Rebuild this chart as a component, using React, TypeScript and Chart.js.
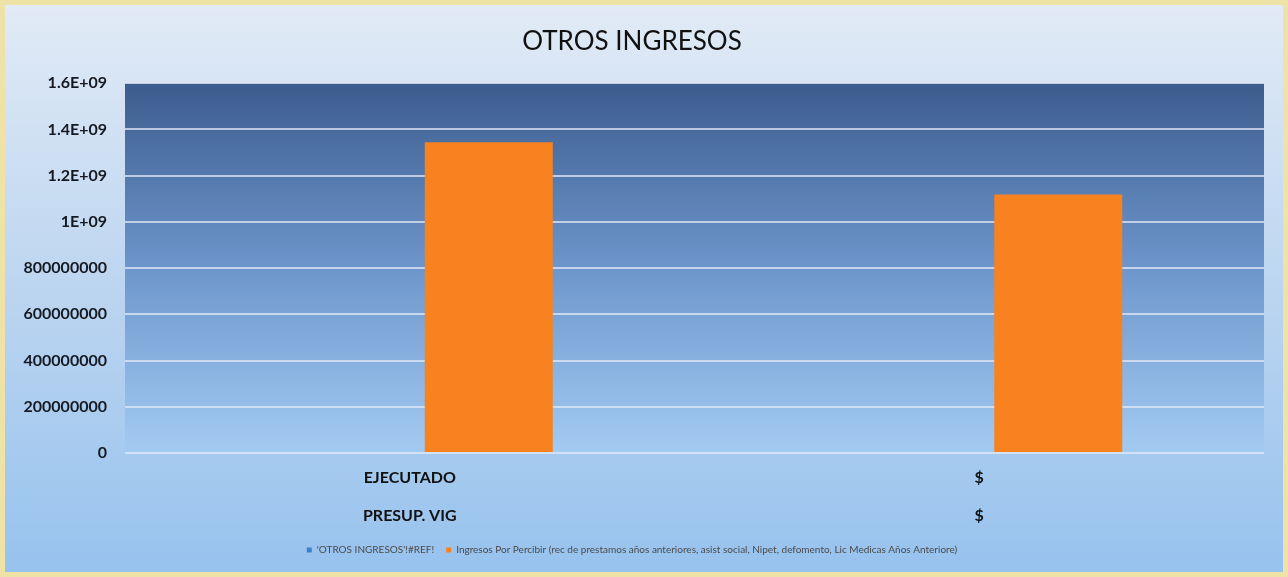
import React, { useEffect, useRef } from "react";
import { Chart, registerables } from "chart.js";

Chart.register(...registerables);

const categories: string[][] = [["EJECUTADO", "PRESUP. VIG"], ["$", "$"]];
const refSeriesLabel = "'OTROS INGRESOS'!#REF!";
const refSeriesValues: (number | null)[] = [null, null];
const ingresosLabel =
  "Ingresos Por Percibir (rec de prestamos años anteriores, asist social, Nipet, defomento, Lic Medicas Años Anteriore)";
const ingresosValues: number[] = [1345000000, 1118000000];
const yTickValues: number[] = [0, 200000000, 400000000, 600000000, 800000000, 1000000000, 1200000000, 1400000000, 1600000000];
const yTickLabels: string[] = ["0", "200000000", "400000000", "600000000", "800000000", "1E+09", "1.2E+09", "1.4E+09", "1.6E+09"];
const chartTitle = "OTROS INGRESOS";

const backgroundPlugin = {
  id: "bgPlugin",
  beforeDraw(chart: any) {
    const { ctx, width, height, chartArea } = chart;
    ctx.save();
    const outer = ctx.createLinearGradient(0, 0, 0, height);
    outer.addColorStop(0, "#e2ebf6");
    outer.addColorStop(0.5, "#bcd5f0");
    outer.addColorStop(1, "#96c2ee");
    ctx.fillStyle = outer;
    ctx.fillRect(0, 0, width, height);
    ctx.strokeStyle = "#efe2a6";
    ctx.lineWidth = 5;
    ctx.strokeRect(2.5, 2.5, width - 5, height - 5);
    if (chartArea) {
      const inner = ctx.createLinearGradient(0, chartArea.top, 0, chartArea.bottom);
      inner.addColorStop(0, "#3d5c8e");
      inner.addColorStop(0.5, "#6d96cc");
      inner.addColorStop(1, "#a3cbf2");
      ctx.fillStyle = inner;
      ctx.fillRect(chartArea.left, chartArea.top, chartArea.right - chartArea.left, chartArea.bottom - chartArea.top);
    }
    ctx.restore();
  },
};

export default function App() {
  const canvasRef = useRef<HTMLCanvasElement | null>(null);

  useEffect(() => {
    document.body.style.margin = "0";
    const canvas = canvasRef.current;
    if (!canvas) return;
    const chart = new Chart(canvas, {
      type: "bar",
      data: {
        labels: categories,
        datasets: [
          {
            label: refSeriesLabel,
            data: refSeriesValues,
            backgroundColor: "#3f7fd0",
            categoryPercentage: 0.555,
            barPercentage: 0.81,
          },
          {
            label: ingresosLabel,
            data: ingresosValues,
            backgroundColor: "#f7821f",
            categoryPercentage: 0.555,
            barPercentage: 0.81,
          },
        ],
      },
      options: {
        animation: false,
        responsive: false,
        maintainAspectRatio: false,
        layout: { padding: { left: 0, right: 24, top: 0, bottom: 12 } },
        plugins: {
          title: {
            display: true,
            text: chartTitle,
            color: "#111111",
            font: { family: "Lato", size: 26, weight: "normal" },
            padding: { top: 26, bottom: 26 },
          },
          legend: {
            display: true,
            position: "bottom",
            labels: {
              boxWidth: 5,
              boxHeight: 5,
              color: "#4a4a4a",
              font: { family: "Lato", size: 10 },
              padding: 12,
            },
          },
          tooltip: { enabled: false },
        },
        scales: {
          x: {
            grid: { display: false, drawTicks: false },
            border: { display: false },
            ticks: {
              color: "#111111",
              font: { family: "Lato", size: 16, weight: "bold", lineHeight: 2.35 },
              padding: 6,
              maxRotation: 0,
              autoSkip: false,
            },
            afterFit(scale: any) {
              scale.height = 80;
            },
          },
          y: {
            min: 0,
            max: 1600000000,
            afterBuildTicks(scale: any) {
              scale.ticks = yTickValues.map((v) => ({ value: v }));
            },
            ticks: {
              color: "#151a22",
              font: { family: "Lato", size: 16, weight: "bold" },
              padding: 18,
              callback: (_v: any, i: number) => yTickLabels[i],
            },
            grid: {
              color: "rgba(225,232,245,0.75)",
              lineWidth: 2,
              drawTicks: false,
            },
            border: { display: false },
            afterFit(scale: any) {
              scale.width = 125;
            },
          },
        },
      },
      plugins: [backgroundPlugin],
    });
    return () => chart.destroy();
  }, []);

  return (
    <div style={{ position: "fixed", left: 0, top: 0, width: 1288, height: 577 }}>
      <canvas ref={canvasRef} width={1288} height={577} style={{ width: 1288, height: 577, display: "block" }} />
    </div>
  );
}
